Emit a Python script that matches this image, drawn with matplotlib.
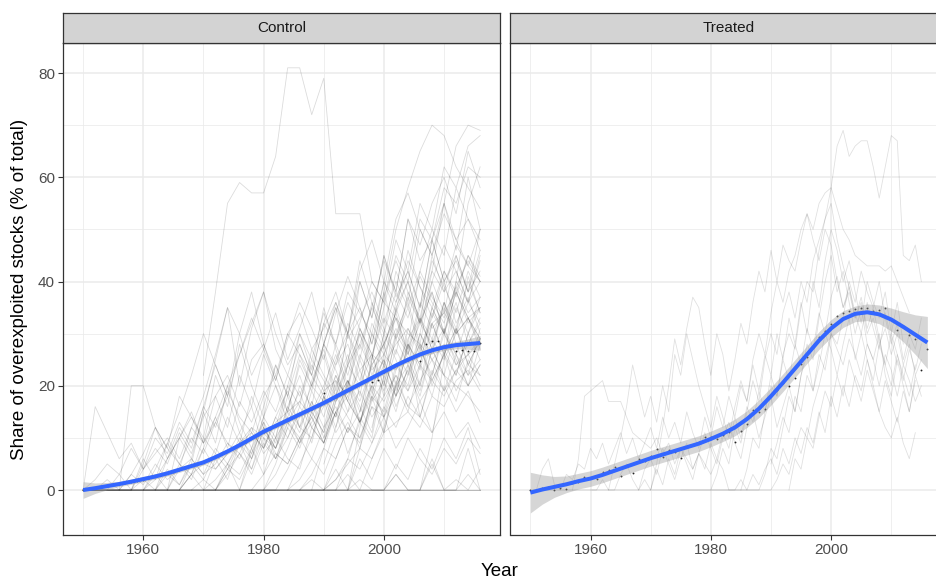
import matplotlib
matplotlib.use("Agg")
import matplotlib.pyplot as plt
import numpy as np

plt.rcParams['font.family'] = ['Liberation Sans', 'DejaVu Sans']

# ---- data -----------------------------------------------------------------
# control stocks: (first year, values every 2 years)
control_start = [1970, 1950, 1950, 1950, 1950, 1950, 1960, 1964, 1950, 1970,
                 1980, 1990, 1994, 1950, 1986, 2000, 1950, 1968, 1962, 1978,
                 1950, 2006, 1972, 1990, 1950, 1998, 1966, 1950, 1994, 2006,
                 1982, 1986, 1976, 1950, 1956, 1960, 1988, 1974, 1984, 1990,
                 1950, 1956, 1960, 1964, 1970, 1976, 1980, 1984, 1988, 1992,
                 1950, 1950, 1958, 1966, 1972, 1980, 1990, 1996, 1954, 1962]
control_values = [
    [22, 38, 55, 59, 57, 57, 64, 81, 81, 72, 79, 53, 53, 53, 40, 36, 33, 30, 28, 25, 22, 20, 18, 15],
    [0, 0, 0, 0, 0, 0, 0, 0, 0, 3, 5, 4, 7, 9, 11, 8, 13, 15, 17, 14, 19, 21, 18, 23, 26, 24, 28, 31, 27, 32, 34, 30, 33, 35],
    [0, 0, 0, 0, 0, 0, 0, 0, 0, 0, 0, 0, 0, 0, 0, 0, 0, 0, 0, 0, 0, 0, 0, 0, 0, 0, 0, 0, 0, 0, 0, 0, 0, 0],
    [0, 0, 0, 0, 0, 0, 0, 0, 0, 0, 0, 0, 0, 0, 0, 0, 0, 0, 0, 0, 0, 2, 5, 8, 6, 11, 13, 15, 12, 18, 16, 21, 23, 19],
    [0, 16, 11, 6, 9, 4, 7, 10, 6, 12, 9, 14, 8, 17, 13, 19, 15, 22, 18, 25, 21, 17, 24, 28, 23, 26, 31, 27, 33, 29, 25, 30, 36, 32],
    [0, 0, 0, 0, 20, 20, 12, 8, 5, 10, 7, 13, 9, 6, 11, 8, 14, 10, 16, 12, 9, 15, 18, 13, 20, 17, 22, 19, 24, 21, 18, 23, 26, 22],
    [0, 2, 6, 10, 14, 9, 18, 22, 16, 25, 28, 21, 30, 34, 27, 31, 36, 29, 33, 38, 32, 40, 35, 42, 37, 33, 39, 44, 40],
    [0, 4, 12, 18, 26, 35, 20, 31, 38, 27, 22, 30, 25, 34, 28, 36, 31, 26, 33, 29, 37, 32, 28, 35, 30, 33, 27],
    [0, 0, 2, 0, 3, 1, 5, 2, 4, 6, 3, 8, 5, 9, 12, 7, 10, 14, 9, 13, 17, 11, 15, 19, 14, 18, 22, 16, 21, 25, 19, 23, 20, 24],
    [0, 0, 0, 0, 0, 3, 7, 5, 10, 14, 9, 17, 21, 15, 24, 28, 20, 31, 26, 35, 30, 38, 33, 29],
    [0, 5, 12, 20, 16, 28, 35, 24, 40, 33, 45, 38, 52, 44, 48, 55, 46, 60, 50],
    [10, 18, 25, 32, 40, 36, 48, 42, 55, 50, 62, 58, 66, 68],
    [0, 12, 25, 38, 50, 58, 65, 70, 68, 62, 58, 54],
    [0, 0, 0, 0, 0, 2, 0, 4, 1, 6, 3, 5, 9, 7, 12, 10, 8, 15, 11, 19, 14, 22, 17, 13, 21, 25, 18, 28, 23, 32, 26, 35, 30, 37],
    [0, 3, 8, 6, 12, 10, 16, 14, 20, 24, 18, 27, 22, 31, 26, 28],
    [20, 35, 28, 42, 50, 45, 58, 52, 48],
    [0, 0, 0, 0, 0, 0, 0, 0, 0, 0, 0, 0, 0, 0, 0, 0, 0, 0, 0, 0, 0, 0, 0, 0, 0, 0, 0, 0, 0, 0, 0, 0, 3, 0],
    [0, 0, 2, 5, 3, 8, 13, 6, 10, 15, 9, 18, 12, 21, 16, 11, 24, 19, 27, 14, 22, 30, 25, 20, 28],
    [0, 6, 12, 8, 16, 24, 18, 30, 22, 27, 34, 25, 31, 38, 28, 35, 30, 40, 33, 45, 37, 42, 35, 48, 40, 44, 38, 46],
    [0, 0, 0, 4, 9, 15, 11, 20, 26, 18, 30, 24, 35, 40, 32, 45, 38, 42, 36, 40],
    [0, 0, 0, 0, 0, 0, 3, 0, 5, 2, 8, 4, 7, 11, 6, 13, 9, 16, 12, 10, 18, 14, 21, 17, 24, 19, 27, 22, 30, 25, 28, 24, 26, 29],
    [30, 42, 55, 66, 70, 69],
    [0, 0, 0, 0, 0, 0, 0, 0, 0, 0, 2, 6, 4, 9, 14, 8, 12, 17, 11, 20, 15, 19, 13],
    [5, 12, 20, 28, 35, 44, 38, 52, 47, 55, 60, 53, 65, 58],
    [0, 0, 0, 3, 0, 6, 2, 9, 5, 3, 10, 7, 14, 9, 18, 12, 8, 16, 22, 15, 20, 26, 19, 30, 24, 28, 33, 27, 36, 31, 34, 38, 32, 35],
    [12, 22, 30, 26, 35, 42, 38, 47, 43, 40],
    [0, 5, 15, 25, 35, 30, 38, 28, 22, 30, 26, 20, 28, 24, 32, 27, 35, 30, 38, 33, 41, 36, 32, 39, 34, 37],
    [0, 0, 0, 0, 0, 0, 0, 0, 0, 0, 0, 0, 5, 0, 8, 3, 10, 6, 4, 12, 9, 15, 7, 13, 18, 11, 21, 16, 14, 23, 19, 26, 22, 25],
    [0, 8, 18, 30, 42, 36, 50, 45, 55, 48, 52, 46],
    [0, 10, 25, 40, 55, 62],
    [10, 18, 26, 22, 32, 28, 38, 34, 30, 40, 36, 44, 39, 35, 42, 38, 45, 41],
    [0, 0, 0, 0, 0, 0, 0, 0, 5, 2, 8, 4, 10, 6, 12, 3],
    [0, 0, 0, 3, 8, 14, 20, 26, 18, 24, 30, 22, 28, 34, 26, 32, 38, 30, 36, 28, 33],
    [0, 0, 0, 0, 0, 0, 0, 0, 0, 0, 2, 0, 4, 7, 3, 9, 6, 12, 8, 15, 11, 18, 14, 10, 17, 21, 15, 24, 19, 27, 22, 17, 25, 20],
    [0, 3, 7, 12, 6, 10, 15, 9, 13, 18, 11, 16, 8, 14, 19, 12, 17, 10, 15, 20, 13, 9, 16, 12, 18, 14, 11, 15, 10, 13, 8],
    [0, 4, 9, 15, 22, 30, 24, 18, 26, 33, 27, 21, 29, 36, 31, 25, 34, 41, 35, 28, 37, 44, 38, 32, 40, 47, 42, 36, 45],
    [20, 28, 36, 30, 42, 48, 40, 52, 57, 50, 45, 53, 48, 43, 50],
    [5, 10, 7, 14, 20, 13, 17, 24, 19, 28, 22, 31, 26, 20, 29, 35, 27, 33, 40, 32, 37, 30],
    [0, 0, 0, 0, 0, 0, 2, 0, 0, 3, 0, 0, 5, 0, 2, 0, 4],
    [0, 6, 12, 9, 18, 15, 24, 20, 30, 26, 36, 31, 40, 34],
    [0, 2, 5, 3, 8, 4, 10, 7, 13, 9, 16, 12, 19, 14, 11, 18, 22, 15, 25, 20, 17, 24, 28, 21, 30, 26, 23, 29, 33, 27, 31, 24, 28, 32],
    [0, 0, 4, 8, 5, 11, 7, 14, 18, 12, 22, 16, 26, 20, 15, 24, 19, 28, 23, 17, 26, 21, 30, 25, 19, 27, 22, 31, 26, 20, 24],
    [0, 0, 0, 0, 3, 0, 6, 2, 9, 4, 12, 7, 5, 10, 14, 9, 17, 21, 13, 19, 24, 16, 22, 28, 20, 26, 31, 24, 29],
    [0, 10, 6, 15, 9, 20, 13, 8, 16, 24, 18, 12, 21, 27, 19, 30, 23, 17, 26, 33, 25, 20, 29, 36, 28, 22, 31],
    [0, 0, 3, 7, 4, 10, 6, 13, 9, 17, 12, 21, 15, 25, 19, 14, 23, 28, 20, 32, 26, 22, 30, 35],
    [0, 6, 14, 10, 20, 16, 27, 22, 18, 30, 25, 36, 31, 26, 38, 33, 44, 39, 34, 42, 37],
    [0, 0, 0, 2, 6, 3, 9, 13, 8, 16, 11, 20, 15, 24, 18, 27, 22, 30, 25],
    [0, 5, 10, 18, 14, 24, 20, 32, 27, 36, 42, 35, 48, 40, 45, 38, 50],
    [0, 8, 15, 11, 20, 26, 18, 30, 36, 28, 40, 34, 45, 38, 42],
    [0, 6, 14, 10, 22, 18, 28, 24, 34, 30, 40, 36, 44],
    [0, 0, 0, 0, 0, 0, 0, 0, 0, 0, 0, 0, 0, 0, 0, 0, 0, 0, 0, 0, 0, 0, 0, 0, 0, 0, 0, 0, 0, 0, 0, 0, 0, 0],
    [0, 0, 0, 0, 0, 0, 0, 0, 0, 0, 0, 0, 0, 0, 0, 0, 0, 0, 0, 2, 0, 4, 0, 6, 2, 8, 4, 10, 6, 3, 8, 5, 10, 7],
    [0, 5, 12, 8, 18, 14, 10, 22, 16, 28, 20, 14, 24, 18, 30, 23, 35, 27, 20, 31, 25, 38, 29, 24, 33, 27, 36, 30, 41, 34],
    [0, 3, 8, 14, 20, 26, 32, 38, 30, 24, 28, 22, 18, 25, 30, 35, 28, 40, 34, 46, 39, 33, 42, 37, 45, 40],
    [0, 4, 2, 7, 12, 8, 14, 19, 12, 16, 22, 17, 13, 20, 25, 18, 23, 28, 21, 26, 31, 24, 29],
    [5, 12, 20, 28, 22, 32, 38, 30, 44, 36, 28, 34, 40, 32, 38, 30, 26, 33, 29],
    [0, 0, 3, 0, 6, 12, 20, 28, 24, 35, 30, 38, 33, 28],
    [15, 25, 35, 45, 40, 52, 48, 58, 55, 62, 60],
    [0, 0, 0, 0, 0, 0, 0, 0, 0, 0, 0, 0, 0, 0, 0, 0, 0, 0, 0, 0, 0, 0, 0, 0, 3, 0, 0, 6, 0, 0, 8, 0],
    [0, 3, 1, 5, 2, 7, 4, 9, 6, 11, 8, 13, 10, 6, 12, 16, 11, 15, 20, 14, 18, 23, 17, 21, 26, 19, 24, 22],
]

# treated stocks: (first year, yearly values)
treated_start = [1950, 1951, 1957, 1963, 1970, 1968, 1980, 1985, 1975, 1990, 1993, 1960]
treated_values = [
    [0, 0, 0, 0, 0, 0, 0, 0, 0, 0, 0, 0, 0, 0, 0, 0, 0, 0, 0, 0, 0, 0, 0, 0, 0, 0, 0, 0, 0, 0, 0, 0, 0, 0, 0, 0, 0, 0, 0,
     3, 8, 6, 12, 18, 15, 22, 28, 25, 33, 40, 45, 38, 42, 36, 30, 35, 28, 25, 30, 22, 18, 25, 20, 15, 22, 18],
    [0, 4, 6, 1, 0, 3, 2, 5, 4, 8, 6, 9, 5, 8, 11, 7, 10, 6, 9, 12, 8, 14, 10, 13, 9, 15, 11, 8, 14, 10, 16, 12, 18, 14, 20,
     17, 24, 19, 26, 22, 30, 25, 33, 28, 36, 30, 40, 35, 44, 50, 46, 40, 44, 38, 32, 40, 36, 33, 38, 30, 36, 28],
    [0, 6, 18, 19, 20, 21, 17, 17, 17, 14, 11, 10, 9, 8, 10, 7, 9, 5, 8, 6, 4, 7, 5, 3, 6, 4, 0, 0, 2, 0, 3, 1, 4, 6, 3,
     8, 5, 10, 7, 12, 9, 15, 11, 18, 14, 20, 16, 22, 19, 25, 21, 28, 24, 20, 26, 22, 18, 24],
    [0, 5, 10, 16, 24, 19, 14, 18, 13, 20, 15, 26, 22, 30, 25, 20, 16, 12, 18, 14, 10, 16, 21, 17, 25,
     30, 26, 34, 40, 36, 42, 45, 50, 53, 48, 44, 50, 47, 40, 35, 38, 33, 36, 30, 33, 28, 31, 26, 30, 24, 28, 22, 25],
    [0, 5, 12, 20, 29, 24, 31, 37, 35, 28, 22, 30, 26, 19, 25, 32, 28, 36, 42, 38, 46, 40, 47, 44, 42, 48, 53, 50, 55, 57,
     58, 54, 50, 48, 45, 44, 43, 43, 43, 42, 43, 40, 37, 34],
    [0, 2, 0, 4, 1, 6, 3, 8, 5, 2, 7, 4, 9, 6, 11, 8, 14, 10, 16, 13, 19, 15, 22, 18, 25, 21, 28, 24, 31, 27, 34, 30, 37,
     41, 35, 39, 33, 37, 31, 35, 29, 24, 30, 26, 21, 27, 23, 28],
    [0, 3, 8, 5, 12, 9, 15, 21, 17, 25, 30, 26, 34, 38, 33, 40, 36, 44, 48, 52, 55, 48, 43, 39, 34, 30, 25, 20, 15, 12,
     10, 14, 9, 6, 11],
    [0, 4, 10, 8, 15, 20, 18, 26, 30, 27, 35, 40, 38, 46, 52, 58, 66, 69, 64, 66, 67, 67, 62, 56, 62, 68, 67, 45, 44, 47, 40],
    [0, 0, 0, 0, 0, 0, 0, 0, 0, 0, 0, 0, 0, 0, 0, 0,
     2, 5, 3, 8, 12, 10, 16, 20, 25, 30, 28, 33, 40, 36, 42, 38, 35, 40, 33, 28, 32, 25, 30, 27, 33],
    [5, 9, 14, 11, 18, 15, 22, 19, 26, 23, 30, 27, 24, 29, 26, 22, 28, 25, 20, 26, 23, 18, 24, 21, 17, 20],
    [0, 6, 4, 10, 8, 14, 19, 16, 22, 18, 25, 21, 17, 23, 19, 15, 21, 17, 13, 19, 15, 21],
    [0, 0, 2, 0, 0, 3, 5, 2, 0, 4, 6, 3, 8, 5, 2, 6, 9, 4, 7, 11, 8, 5, 10, 13, 9, 6, 12, 15, 10, 14, 18, 12, 16, 20,
     15, 22, 26, 19, 24, 30, 27, 22, 28, 33, 25, 30, 36, 31, 27, 34, 29, 24],
]

# yearly group means (small dots), 1950-2016
mean_years = list(range(1950, 2017))
control_mean = [0.0, 0.2, 0.4, 0.6, 0.8, 1.0, 1.2, 1.4, 1.6, 1.8,
                2.0, 2.3, 2.6, 2.9, 3.2, 3.5, 3.9, 4.2, 4.6, 4.9,
                5.3, 5.8, 6.3, 6.9, 7.4, 8.0, 8.6, 9.2, 9.9, 10.6,
                11.2, 11.7, 12.3, 12.9, 13.4, 14.0, 14.5, 15.1, 15.6, 16.2,
                18.6, 17.3, 17.9, 18.9, 19.1, 19.7, 20.3, 20.9, 20.8, 21.2,
                22.7, 23.3, 23.9, 24.5, 25.0, 25.5, 24.8, 28.1, 28.6, 28.5,
                27.4, 27.6, 26.7, 26.8, 26.6, 26.6, 28.2]
treated_mean = [0.0, 0.0, 0.3, 0.6, 0.0, 0.3, 0.2, 1.3, 1.5, 2.5,
                2.3, 2.2, 3.5, 3.8, 4.5, 2.6, 4.8, 3.3, 5.9, 5.6,
                6.5, 7.9, 6.4, 7.6, 7.2, 6.2, 8.3, 8.6, 9.2, 10.2,
                10.2, 9.8, 10.6, 11.1, 9.3, 11.4, 12.7, 15.3, 15.0, 15.5,
                18.3, 19.2, 20.5, 20.0, 21.5, 24.2, 25.6, 27.5, 29.4, 30.5,
                31.8, 33.3, 33.9, 34.4, 34.7, 35.0, 35.0, 34.3, 34.6, 35.0,
                32.8, 30.7, 31.4, 29.8, 29.0, 23.0, 27.0]

# loess fits and half-width of the confidence band, every 2 years
smooth_years = list(range(1950, 2017, 2))
control_fit = [0.0, 0.35, 0.75, 1.15, 1.6, 2.1, 2.6, 3.2, 3.9, 4.6,
               5.3, 6.3, 7.4, 8.6, 9.9, 11.2, 12.3, 13.4, 14.5, 15.6,
               16.7, 17.9, 19.1, 20.3, 21.5, 22.7, 23.9, 25.0, 26.0, 26.8,
               27.4, 27.8, 28.0, 28.2]
control_se = [1.6, 1.0, 0.7, 0.5, 0.5, 0.5, 0.5, 0.5, 0.5, 0.5,
              0.5, 0.5, 0.5, 0.5, 0.5, 0.5, 0.5, 0.5, 0.5, 0.5,
              0.5, 0.5, 0.5, 0.5, 0.5, 0.5, 0.5, 0.5, 0.5, 0.6,
              0.6, 0.7, 1.0, 1.4]
treated_fit = [-0.5, 0.1, 0.6, 1.1, 1.7, 2.2, 2.9, 3.7, 4.5, 5.3,
               6.1, 6.8, 7.5, 8.2, 8.9, 9.8, 10.8, 12.0, 13.6, 15.6,
               18.0, 20.6, 23.3, 26.0, 28.7, 31.0, 32.8, 33.8, 34.1, 33.7,
               32.7, 31.3, 29.8, 28.3]
treated_se = [3.9, 2.8, 2.0, 1.6, 1.5, 1.5, 1.5, 1.5, 1.5, 1.5,
              1.5, 1.5, 1.5, 1.5, 1.5, 1.5, 1.5, 1.6, 1.6, 1.7,
              1.7, 1.7, 1.7, 1.7, 1.7, 1.7, 1.6, 1.5, 1.6, 1.8,
              2.2, 2.9, 3.8, 5.0]

panels = ['Control', 'Treated']

# ---- figure ---------------------------------------------------------------
W, H = 936, 580
fig = plt.figure(figsize=(W / 100, H / 100), dpi=100)

px_left = [63.3, 510.5]
px_w = 436.7
py_top, py_bot = 43.0, 535.0

blue = '#3366FF'
axes = []
for i, name in enumerate(panels):
    ax = fig.add_axes([px_left[i] / W, 1 - py_bot / H, px_w / W, (py_bot - py_top) / H])
    ax.set_xlim(1946.7, 2019.3)
    ax.set_ylim(-8.63, 85.76)
    ax.set_xticks([1960, 1980, 2000])
    ax.set_xticks([1950, 1970, 1990, 2010], minor=True)
    ax.set_yticks([0, 20, 40, 60, 80])
    ax.set_yticks([10, 30, 50, 70], minor=True)
    ax.grid(which='major', color='#EBEBEB', linewidth=1.1)
    ax.grid(which='minor', color='#EBEBEB', linewidth=0.55)
    ax.set_axisbelow(True)
    for s in ax.spines.values():
        s.set_color('#333333')
        s.set_linewidth(0.9)
    ax.tick_params(which='major', length=3.5, width=0.8, color='#333333',
                   labelsize=11, labelcolor='#4D4D4D', pad=2.5)
    ax.tick_params(which='minor', length=0)
    if i == 1:
        ax.tick_params(axis='y', which='major', length=0, labelleft=False)

    # strip
    sax = fig.add_axes([px_left[i] / W, 1 - py_top / H, px_w / W, 30 / H])
    sax.set_facecolor('#D3D3D3')
    sax.set_xticks([])
    sax.set_yticks([])
    for s in sax.spines.values():
        s.set_color('#333333')
        s.set_linewidth(0.9)
    sax.text(0.5, 0.5, name, transform=sax.transAxes, ha='center', va='center',
             fontsize=11, color='#1A1A1A')
    axes.append(ax)

ax1, ax2 = axes

# spaghetti lines
for start, vals in zip(control_start, control_values):
    yrs = [start + 2 * k for k in range(len(vals))]
    ax1.plot(yrs, vals, color='black', alpha=0.14, linewidth=0.6)
for start, vals in zip(treated_start, treated_values):
    yrs = [start + k for k in range(len(vals))]
    ax2.plot(yrs, vals, color='black', alpha=0.12, linewidth=0.6)

# means, smooth and band
for ax, means, fit, se in [(ax1, control_mean, control_fit, control_se),
                           (ax2, treated_mean, treated_fit, treated_se)]:
    ax.scatter(mean_years, means, s=1.8, color='#222222', zorder=3, linewidths=0)
    fit = np.array(fit)
    se = np.array(se)
    ax.fill_between(smooth_years, fit - se, fit + se, color='#999999', alpha=0.4,
                    linewidth=0, zorder=4)
    ax.plot(smooth_years, fit, color=blue, linewidth=2.9, zorder=5,
            solid_capstyle='butt')

fig.text(20 / W, 1 - 289 / H, 'Share of overexploited stocks (% of total)',
         rotation=90, ha='center', va='center', fontsize=13.5, color='black')
fig.text(500 / W, 1 - 572 / H, 'Year', ha='center', va='center',
         fontsize=13.5, color='black')

fig.savefig('out.png', dpi=100)
